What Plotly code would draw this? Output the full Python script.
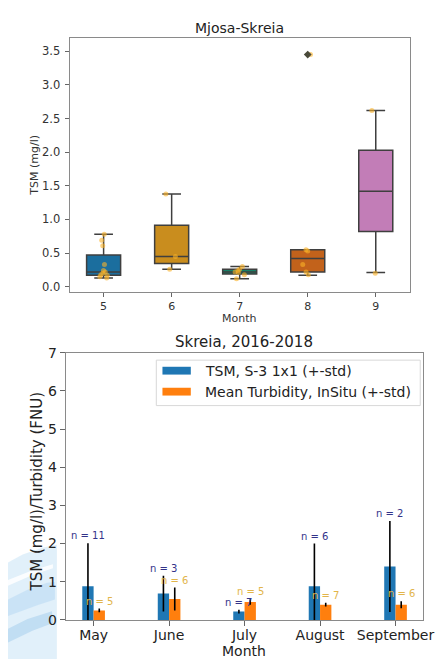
import plotly.graph_objects as go

# ---------------- data: top box plot (Mjosa-Skreia) ----------------
box_months = [5, 6, 7, 8, 9]
box_q1 = [0.17, 0.345, 0.19, 0.22, 0.82]
box_median = [0.22, 0.45, 0.22, 0.42, 1.42]
box_q3 = [0.47, 0.915, 0.26, 0.55, 2.03]
box_low = [0.13, 0.26, 0.12, 0.17, 0.21]
box_high = [0.78, 1.38, 0.30, 0.55, 2.62]
box_colors = ["#1b6e9e", "#c98d1e", "#178067", "#c2621b", "#c27db7"]

pts_5 = [0.78, 0.69, 0.61, 0.33, 0.24, 0.22, 0.20, 0.18, 0.17, 0.15, 0.13]
pts_6 = [1.38, 0.45, 0.26]
pts_7 = [0.30, 0.26, 0.24, 0.22, 0.21, 0.18, 0.12]
pts_8 = [3.45, 0.55, 0.53, 0.33, 0.22, 0.18]
pts_9 = [2.62, 0.20]
outlier_x = [8]
outlier_y = [3.45]

# ---------------- data: bottom bar chart (Skreia, 2016-2018) ----------------
bar_months = ["May", "June", "July", "August", "September"]
tsm_mean = [0.88, 0.69, 0.22, 0.88, 1.40]
tsm_std = [1.13, 0.47, 0.05, 1.12, 1.19]
tsm_n = [11, 3, 7, 6, 2]
turb_mean = [0.25, 0.55, 0.47, 0.40, 0.40]
turb_std = [0.05, 0.30, 0.07, 0.05, 0.09]
turb_n = [5, 6, 5, 7, 6]

W, H = 446, 659
FONT = "DejaVu Sans"


def px(x):
    return x / W


def py(y):
    return 1 - y / H


fig = go.Figure()

# ---- boxes ----
for m, a, b, c, lo, hi, col in zip(box_months, box_q1, box_median, box_q3,
                                     box_low, box_high, box_colors):
    fig.add_trace(go.Box(
        x=[m], q1=[a], median=[b], q3=[c], lowerfence=[lo], upperfence=[hi],
        width=0.5, whiskerwidth=0.55, fillcolor=col,
        line=dict(color="#3f3f3f", width=1.5), boxpoints=False,
        xaxis="x", yaxis="y", showlegend=False))

fig.add_trace(go.Scatter(
    x=outlier_x, y=outlier_y, mode="markers",
    marker=dict(symbol="diamond", size=6, color="#4a4a3a"),
    xaxis="x", yaxis="y", showlegend=False))

strip_x, strip_y = [], []
for m, pts in zip(box_months, [pts_5, pts_6, pts_7, pts_8, pts_9]):
    strip_x += [m] * len(pts)
    strip_y += pts
fig.add_trace(go.Box(
    x=strip_x, y=strip_y, boxpoints="all", jitter=0.35, pointpos=0,
    width=0.5, whiskerwidth=0, fillcolor="rgba(0,0,0,0)",
    line=dict(color="rgba(0,0,0,0)", width=0),
    marker=dict(color="rgba(250,178,40,0.6)", size=5),
    xaxis="x", yaxis="y", showlegend=False))

# ---- bars ----
idx = list(range(len(bar_months)))
fig.add_trace(go.Bar(
    x=idx, y=tsm_mean, width=0.15, offset=-0.15, marker_color="#1f77b4",
    marker_line_width=0,
    error_y=dict(type="data", array=tsm_std, color="black", thickness=1.6, width=0),
    xaxis="x2", yaxis="y2", showlegend=False))
fig.add_trace(go.Bar(
    x=idx, y=turb_mean, width=0.15, offset=0.0, marker_color="#ff7f0e",
    marker_line_width=0,
    error_y=dict(type="data", array=turb_std, color="black", thickness=1.6, width=0),
    xaxis="x2", yaxis="y2", showlegend=False))

annotations = []
for i, m, s, n in zip(idx, tsm_mean, tsm_std, tsm_n):
    annotations.append(dict(x=i - 0.075, y=m + s, xref="x2", yref="y2",
                            text=f"n = {n}", showarrow=False, xanchor="center",
                            yanchor="bottom",
                            font=dict(family=FONT, size=10, color="#33338a")))
for i, m, s, n in zip(idx, turb_mean, turb_std, turb_n):
    annotations.append(dict(x=i + 0.075, y=m + s, xref="x2", yref="y2",
                            text=f"n = {n}", showarrow=False, xanchor="center",
                            yanchor="bottom",
                            font=dict(family=FONT, size=10, color="#e2b54a")))


def label(x, y, text, size, color="#222", angle=0):
    return dict(x=px(x), y=py(y), xref="paper", yref="paper", text=text,
                showarrow=False, xanchor="center", yanchor="middle",
                textangle=angle, font=dict(family=FONT, size=size, color=color))


annotations += [
    label(237, 12.5, "Mjosa-Skreia", 14),
    label(237, 310, "Month", 11, "#333"),
    label(27, 153, "TSM (mg/l)", 11, "#333", -90),
    label(241.5, 334, "Skreia, 2016-2018", 15),
    label(241.7, 650.5, "Month", 14),
    label(30, 487, "TSM (mg/l)/Turbidity (FNU)", 15, "#222", -90),
]

# manual legend
legend_items = [("TSM, S-3 1x1 (+-std)", "#1f77b4", 363.5),
                ("Mean Turbidity, InSitu (+-std)", "#ff7f0e", 385)]
shapes = [dict(type="rect", xref="paper", yref="paper",
               x0=px(151.7), x1=px(421.7), y0=py(399.3), y1=py(352.7),
               line=dict(color="#d8d8d8", width=1), fillcolor="rgba(255,255,255,0.85)")]
for text, col, yc in legend_items:
    shapes.append(dict(type="rect", xref="paper", yref="paper",
                       x0=px(158), x1=px(187), y0=py(yc + 4), y1=py(yc - 4),
                       line=dict(width=0), fillcolor=col))
    annotations.append(dict(x=px(199), y=py(yc), xref="paper", yref="paper",
                            text=text, showarrow=False, xanchor="left",
                            yanchor="middle",
                            font=dict(family=FONT, size=14, color="#222")))


# decorative background swoosh (lower left)
def path(points):
    return "M " + " L ".join(f"{px(a):.4f},{py(b):.4f}" for a, b in points) + " Z"


deco = [
    ([(0, 560), (15, 552), (35, 545), (50, 542), (50, 659), (0, 659)], "rgba(222,238,250,0.9)"),
    ([(0, 598), (20, 588), (40, 581), (48, 580), (48, 598), (30, 604), (0, 615)], "rgba(196,224,245,0.8)"),
    ([(0, 628), (20, 618), (45, 610), (46, 622), (25, 630), (0, 642)], "rgba(180,214,240,0.7)"),
    ([(0, 578), (25, 568), (46, 562), (46, 566), (25, 573), (0, 584)], "rgba(255,255,255,0.85)"),
]
for pts, col in deco:
    shapes.append(dict(type="path", xref="paper", yref="paper", path=path(pts),
                       fillcolor=col, line=dict(width=0), layer="below"))

axis_common = dict(showgrid=False, zeroline=False, showline=True, mirror=True,
                   linecolor="#8a8a8a", linewidth=1, ticks="outside",
                   tickcolor="#666", tickwidth=1)

fig.update_layout(
    width=W, height=H, margin=dict(l=0, r=0, t=0, b=0),
    paper_bgcolor="white", plot_bgcolor="rgba(0,0,0,0)",
    boxmode="overlay", showlegend=False,
    font=dict(family=FONT),
    xaxis=dict(domain=[px(63), px(411)], range=[4.5, 9.5], tickvals=box_months,
               ticklen=4, tickfont=dict(size=11, color="#333"), anchor="y",
               **axis_common),
    yaxis=dict(domain=[py(283), py(23)], range=[-0.08, 3.69], dtick=0.5,
               tickformat=".1f", ticklen=4, ticklabelstandoff=2,
               tickfont=dict(size=11.5, color="#333"),
               anchor="x", **axis_common),
    xaxis2=dict(domain=[px(59), px(425)], range=[-0.37, 4.37], tickvals=idx,
                ticktext=bar_months, ticklen=5, ticklabelstandoff=-3,
                tickfont=dict(size=14, color="#222"), anchor="y2", **axis_common),
    yaxis2=dict(domain=[py(619), py(345)], range=[0, 7], dtick=1, ticklen=5,
                tickfont=dict(size=14, color="#222"), anchor="x2", **axis_common),
    annotations=annotations, shapes=shapes,
)

fig.write_html("out.html")
